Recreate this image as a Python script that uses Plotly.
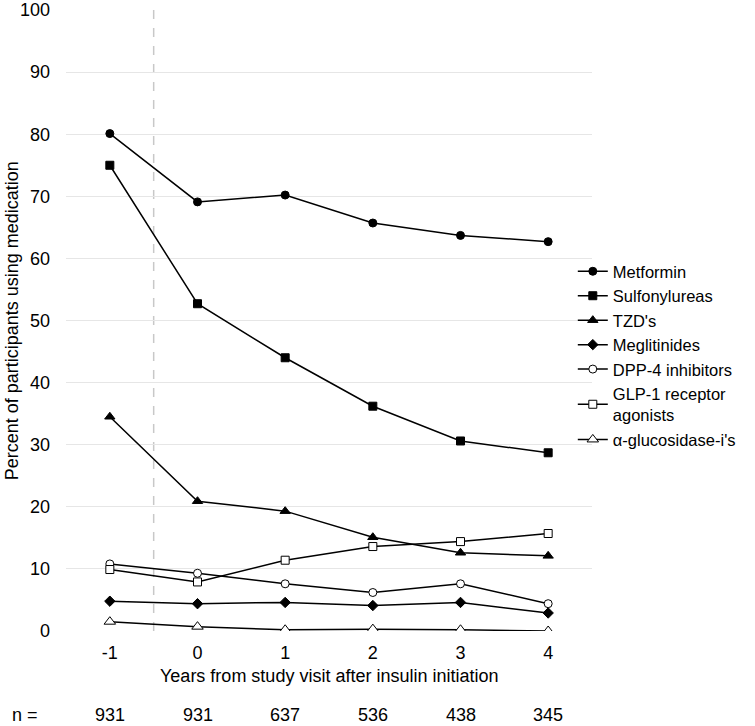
import plotly.graph_objects as go

years = [-1, 0, 1, 2, 3, 4]
year_labels = ["-1", "0", "1", "2", "3", "4"]
n_counts = ["931", "931", "637", "536", "438", "345"]

metformin = [80.1, 69.1, 70.2, 65.7, 63.7, 62.7]
sulfonylureas = [75.0, 52.7, 44.0, 36.2, 30.6, 28.7]
tzds = [34.5, 20.9, 19.3, 15.1, 12.6, 12.1]
meglitinides = [4.8, 4.4, 4.6, 4.1, 4.6, 2.9]
dpp4 = [10.8, 9.3, 7.6, 6.2, 7.6, 4.4]
glp1 = [9.9, 7.9, 11.4, 13.6, 14.4, 15.7]
alpha_gluc = [1.5, 0.7, 0.2, 0.3, 0.2, 0.0]

series = [
    ("Metformin", metformin, "circle", "black", 8),
    ("Sulfonylureas", sulfonylureas, "square", "black", 8),
    ("TZD's", tzds, "triangle-up", "black", 9),
    ("Meglitinides", meglitinides, "diamond", "black", 8),
    ("DPP-4 inhibitors", dpp4, "circle", "white", 8),
    ("GLP-1 receptor<br>agonists", glp1, "square", "white", 8),
    ("α-glucosidase-i's", alpha_gluc, "triangle-up", "white", 10),
]

FONT = "Liberation Sans, Arial, sans-serif"

fig = go.Figure()
for name, vals, sym, fill, size in series:
    fig.add_trace(go.Scatter(
        x=years, y=vals, name=name, mode="lines+markers",
        line=dict(color="black", width=1.5),
        marker=dict(symbol=sym, size=size, color=fill,
                    line=dict(color="black", width=1)),
    ))

fig.add_shape(type="line", x0=-0.5, x1=-0.5, y0=0, y1=1, xref="x", yref="paper",
              line=dict(color="#c8c8c8", width=1.5, dash="dash"), layer="below")

# y-axis title
fig.add_annotation(x=-0.103, xref="paper", y=0.5, yref="paper", xanchor="center",
                   yanchor="middle", textangle=-90, showarrow=False,
                   text="Percent of participants using medication",
                   font=dict(size=18, color="black"))
# x-axis title
fig.add_annotation(x=0.5, xref="paper", y=-0.0725, yref="paper", yanchor="middle",
                   showarrow=False,
                   text="Years from study visit after insulin initiation",
                   font=dict(size=18, color="black"))
# n row
fig.add_annotation(x=-0.1065, xref="paper", xanchor="left", y=-0.135, yref="paper",
                   yanchor="middle", text="n =", showarrow=False,
                   font=dict(size=18, color="black"))
for xv, nv in zip(years, n_counts):
    fig.add_annotation(x=xv, xref="x", y=-0.135, yref="paper", yanchor="middle",
                       text=nv, showarrow=False, font=dict(size=18, color="black"))

fig.update_layout(
    width=755, height=726,
    margin=dict(l=66, r=163, t=10, b=95, autoexpand=False),
    paper_bgcolor="white", plot_bgcolor="white",
    font=dict(family=FONT, size=18, color="black"),
    showlegend=True,
    legend=dict(x=0.9635, xanchor="left", y=0.607, yanchor="top",
                font=dict(size=16.5), tracegroupgap=0, itemwidth=30,
                bgcolor="rgba(0,0,0,0)"),
    xaxis=dict(range=[-1.5, 4.5], tickvals=years, ticktext=year_labels,
               showgrid=False, zeroline=False, showline=False, ticks="",
               automargin=False, ticklabelstandoff=9),
    yaxis=dict(range=[0, 100], dtick=10, showgrid=True, gridcolor="#e6e6e6",
               zeroline=False, showline=False, ticks="", automargin=False,
               ticklabelstandoff=15),
)

fig.write_html("out.html", config={"displayModeBar": False},
               post_script="document.body.style.margin='0';")
